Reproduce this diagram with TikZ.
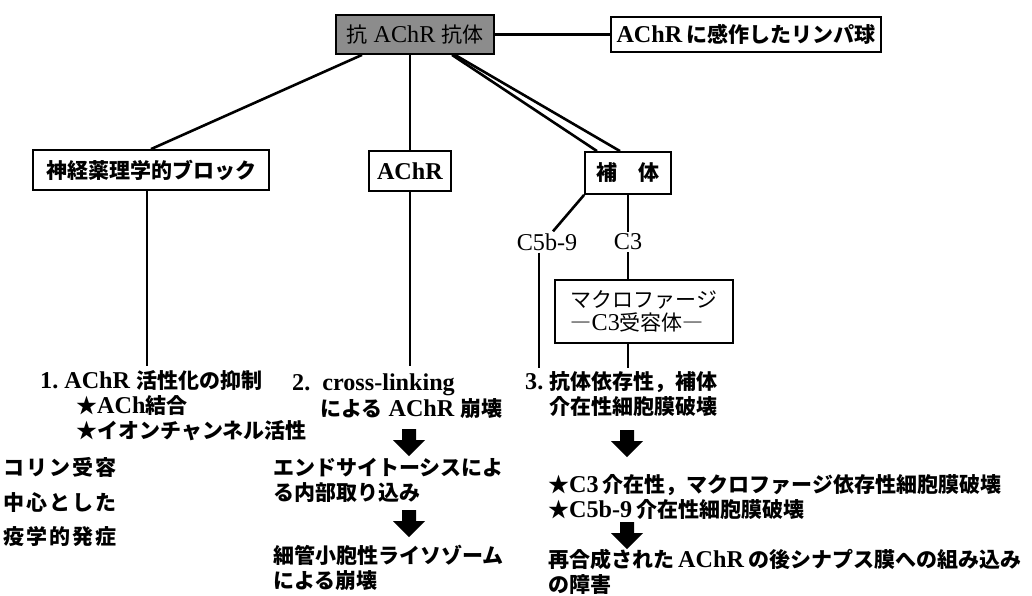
\documentclass[tikz,border=0pt]{standalone}
\usepackage{fontspec}
\setmainfont{Liberation Serif}[Scale=1.15]
\newfontfamily\jp{Noto Sans CJK JP}
\newfontfamily\jpw{Noto Sans CJK JP}[LetterSpace=10]
\newcommand\J[1]{{\jp\mdseries #1}}
\newcommand\JB[1]{{\jp\bfseries #1}}
\begin{document}
\begin{tikzpicture}[x=1pt,y=-1pt,
  every node/.style={font=\fontsize{21}{25}\selectfont, inner sep=0pt},
  box/.style={draw, line width=1.8pt},
  conn/.style={line width=2.6pt},
  txt/.style={anchor=base west},
  pics/barrow/.style={code={\fill (-7,0) -- (7,0) -- (7,11) -- (16,11) -- (0,27) -- (-16,11) -- (-7,11) -- cycle;}}
]
\useasboundingbox (0,0) rectangle (1032,595);

% boxes
\node[box, fill=black!45, minimum width=158pt, minimum height=39pt] (top) at (415,34.5) {\J{抗}\ AChR\ \J{抗体}};
\node[box, minimum width=270pt, minimum height=35pt] (lym) at (746,34.5) {\textbf{AChR}\,\JB{に感作したリンパ球}};
\node[box, minimum width=236pt, minimum height=40pt] (block) at (151,170) {\JB{神経薬理学的ブロック}};
\node[box, minimum width=82pt, minimum height=40pt] (achr) at (410,171) {\textbf{AChR}};
\node[box, minimum width=86pt, minimum height=42pt] (hotai) at (628,173) {\JB{補　体}};
\node[inner sep=2pt] (c5) at (547,242) {C5b-9};
\node[inner sep=2pt] (c3) at (628,242) {C3};
\node[box, minimum width=178pt, minimum height=63pt, align=left, font=\fontsize{21}{23.5}\selectfont] (macro) at (644,311.5) {\J{マクロファージ}\\\J{―}C3\J{受容体―}};

% connectors
\draw[conn] (top.east) -- (lym.west);
\draw[conn] ([xshift=-53pt]top.south) -- (block.north);
\draw[conn] (top.south -| achr.north) -- (achr.north);
\draw[conn] ([xshift=37pt]top.south) -- ([xshift=-31pt]hotai.north);
\draw[conn] ([xshift=40pt]top.south) -- ([xshift=-8pt]hotai.north);
\draw[conn] (hotai.south west) -- ([xshift=6pt]c5.north);
\draw[conn] (hotai.south -| c3.north) -- (c3.north);
\draw[conn] (c3.south) -- (c3.south |- macro.north);
\coordinate (e5) at (539,368);
\draw[conn] (c5.south -| e5) -- (e5);
\coordinate (em) at (628,368);
\draw[conn] (em |- macro.south) -- (em);
\coordinate (e1) at (147,366);
\draw[conn] (e1 |- block.south) -- (e1);
\coordinate (e2) at (410,366);
\draw[conn] (achr.south) -- (e2);

% column 1
\node[txt] (t1a) at (40,388) {\textbf{1.\ AChR}\ \JB{活性化の抑制}};
\node[txt] (t1b) at (76,413) {\JB{★}\textbf{ACh}\JB{結合}};
\node[txt] (t1c) at (76,438) {\JB{★イオンチャンネル活性}};
\node[txt] (l1) at (3,475) {{\jpw\bfseries コリン受容}};
\node[txt] (l2) at (3,510) {{\jpw\bfseries 中心とした}};
\node[txt] (l3) at (3,544) {{\jpw\bfseries 疫学的発症}};

% column 2
\node[txt] (t2a) at (292,390) {\textbf{2.\ \ cross-linking}};
\node[txt] (t2b) at (320,416) {\JB{による}\ \textbf{AChR}\ \JB{崩壊}};
\pic at (409,429) {barrow};
\node[txt] (t2c) at (273,475) {\JB{エンドサイトーシスによ}};
\node[txt] (t2d) at (273,500) {\JB{る内部取り込み}};
\pic at (409,510) {barrow};
\node[txt] (t2e) at (273,563) {\JB{細管小胞性ライソゾーム}};
\node[txt] (t2f) at (273,588) {\JB{による崩壊}};

% column 3
\node[txt] (t3a) at (525,389) {\textbf{3.}};
\node[txt] (t3b) at (549,389) {\JB{抗体依存性，補体}};
\node[txt] (t3c) at (549,414) {\JB{介在性細胞膜破壊}};
\pic at (627,430) {barrow};
\node[txt] (t3d) at (548,492) {\JB{★}\textbf{C3}\,\JB{介在性，マクロファージ依存性細胞膜破壊}};
\node[txt] (t3e) at (548,517) {\JB{★}\textbf{C5b-9}\,\JB{介在性細胞膜破壊}};
\pic at (627,522) {barrow};
\node[txt] (t3f) at (548,567) {\JB{再合成された}\,\textbf{AChR}\,\JB{の後シナプス膜への組み込み}};
\node[txt] (t3g) at (548,592) {\JB{の障害}};
\end{tikzpicture}
\end{document}
